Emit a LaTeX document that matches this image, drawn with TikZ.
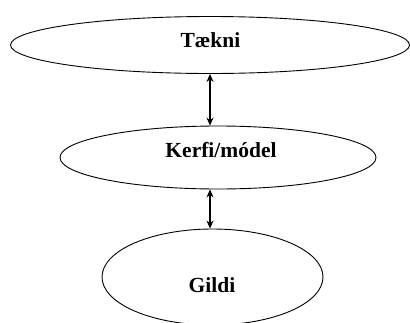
\documentclass[tikz,border=0pt]{standalone}
\usepackage{fontspec}
\setmainfont{Liberation Serif}
\usetikzlibrary{arrows.meta, shapes.geometric}

\begin{document}
\begin{tikzpicture}[
    x=1pt,y=-1pt,
    oval/.style={draw,ellipse,line width=0.9pt,inner sep=0pt},
    lbl/.style={font=\fontsize{21.5}{25}\selectfont\bfseries,anchor=base,inner sep=0pt},
    arr/.style={{Stealth[length=8pt,width=7pt]}-{Stealth[length=8pt,width=7pt]},line width=1.1pt}
]
  \useasboundingbox (0,0) rectangle (410,322);
  % Ellipses
  \node[oval,minimum width=399pt,minimum height=57pt] (tek) at (210,45) {};
  \node[oval,minimum width=316pt,minimum height=63pt] (kerfi) at (218,157.5) {};
  \node[oval,minimum width=221pt,minimum height=96pt] (gildi) at (212.5,277) {};

  % Texts
  \node[lbl] (tektxt) at (210.5,47) {Tækni};
  \node[lbl] (kerfitxt) at (221,157.5) {Kerfi/módel};
  \node[lbl] (gilditxt) at (212,292) {Gildi};

  % Arrows
  \draw[arr] (tek.south) -- (tek.south |- kerfi.north);
  \draw[arr] (tek.south |- kerfi.south) -- (tek.south |- gildi.north);
\end{tikzpicture}
\end{document}
